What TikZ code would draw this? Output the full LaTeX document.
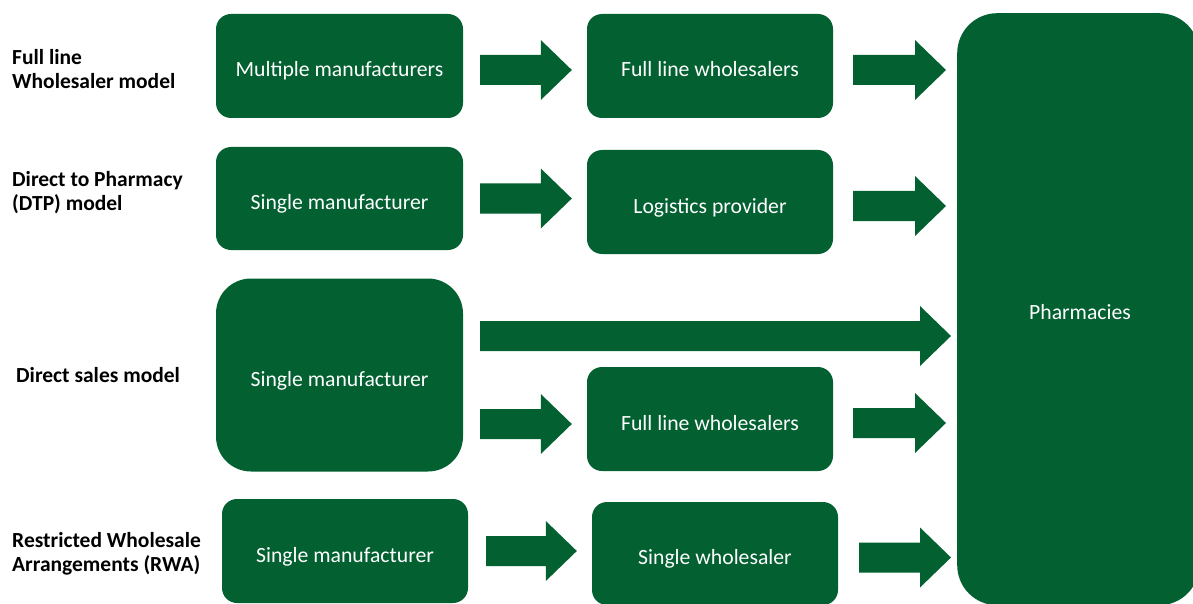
\documentclass[tikz,border=0pt]{standalone}
\usepackage{fontspec}
\setmainfont{Carlito}
\usetikzlibrary{calc}
\definecolor{pgreen}{RGB}{2,96,49}
\tikzset{
  box/.style={fill=pgreen, text=white, rounded corners=15pt, inner sep=0pt, text height=27pt, text depth=5pt, font=\fontsize{21.7}{25}\selectfont},
  lbl/.style={anchor=west, align=left, inner sep=0pt, font=\bfseries\fontsize{21.5}{24}\selectfont},
  flow/.style={fill=pgreen}
}
\newcommand{\blockarrow}[2]{%
  \fill[flow] let \p1=#1, \p2=#2 in
    (\x1,\y1+15pt) -- (\x2-31pt,\y1+15pt) -- (\x2-31pt,\y1+30pt) -- (\x2,\y1)
    -- (\x2-31pt,\y1-30pt) -- (\x2-31pt,\y1-15pt) -- (\x1,\y1-15pt) -- cycle;}
\begin{document}
\begin{tikzpicture}[x=1pt,y=-1pt]
\useasboundingbox (0,0) rectangle (1193,604);
% pharmacies
\node[box, rounded corners=40pt, minimum width=242pt, minimum height=592pt, anchor=north west] (ph) at (957,13) {};
\node[text=white, font=\fontsize{21.7}{25}\selectfont, inner sep=0pt] (phl) at (1080,312) {Pharmacies};
% row 1
\node[box, minimum width=247pt, minimum height=104pt] (b1) at (339.5,66) {Multiple manufacturers};
\node[box, minimum width=246pt, minimum height=104pt] (f1) at (710,66) {Full line wholesalers};
% row 2
\node[box, minimum width=247pt, minimum height=103pt] (b2) at (339.5,198.5) {Single manufacturer};
\node[box, minimum width=246pt, minimum height=104pt] (l2) at (710,202) {Logistics provider};
% row 3
\node[box, rounded corners=35pt, minimum width=247pt, minimum height=193pt] (d3) at (339.5,375) {Single manufacturer};
\node[box, minimum width=246pt, minimum height=104pt] (f3) at (710,419) {Full line wholesalers};
% row 4
\node[box, minimum width=246pt, minimum height=104pt] (r4) at (345,551) {Single manufacturer};
\node[box, minimum width=246pt, minimum height=103pt] (s4) at (715,553.5) {Single wholesaler};
% labels
\node[lbl] (t1) at (12,69) {Full line\\Wholesaler model};
\node[lbl] (t2) at (12,193) {Direct to Pharmacy\\(DTP) model};
\node[lbl] (t3) at (16,375) {Direct sales model};
\node[lbl] (t4) at (12,554) {Restricted Wholesale\\Arrangements (RWA)};
% arrows
\blockarrow{($(b1.east)+(17,4)$)}{($(f1.west)+(-15,4)$)}
\blockarrow{($(f1.east)+(20,4)$)}{($(ph.west)+(-11,0)$)}
\blockarrow{($(b2.east)+(17,0)$)}{($(l2.west)+(-15,0)$)}
\blockarrow{($(l2.east)+(20,4)$)}{($(ph.west)+(-11,0)$)}
\blockarrow{($(d3.east)+(17,-39)$)}{($(ph.west)+(-6,0)$)}
\blockarrow{($(d3.east)+(17,49)$)}{($(f3.west)+(-15,0)$)}
\blockarrow{($(f3.east)+(20,4)$)}{($(ph.west)+(-11,0)$)}
\blockarrow{($(r4.east)+(18,0)$)}{($(s4.west)+(-15,0)$)}
\blockarrow{($(s4.east)+(21,4)$)}{($(ph.west)+(-6,0)$)}
\end{tikzpicture}
\end{document}
